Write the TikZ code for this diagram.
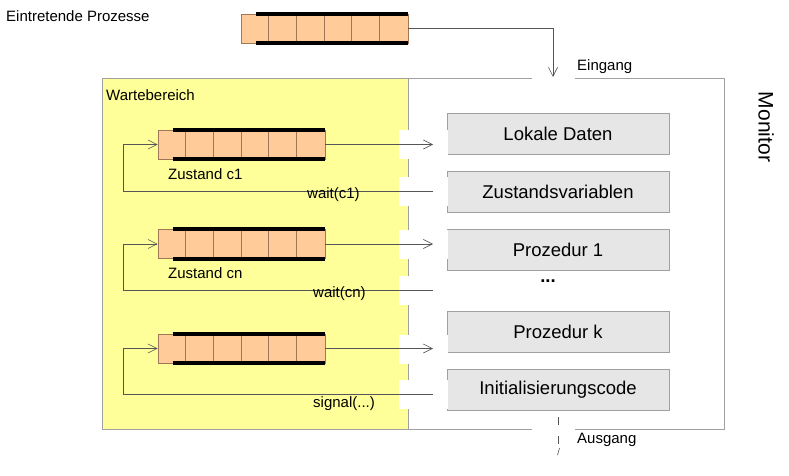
\documentclass[tikz,border=0pt]{standalone}
\usepackage{fontspec}
\setmainfont{Liberation Sans}
\usetikzlibrary{arrows.meta}
\definecolor{qfill}{HTML}{FFCC99}
\definecolor{qline}{HTML}{A07858}
\definecolor{yfill}{HTML}{FFFF99}
\definecolor{gline}{HTML}{A0A0A0}
\definecolor{bfill}{HTML}{E6E6E6}
\definecolor{aline}{HTML}{555555}
\newcommand\qdeco[1]{%
  \foreach \d in {28,56,84,111,139}
    \draw[qline, line width=0.6pt] ([xshift=\d pt]#1.north west) -- ([xshift=\d pt]#1.south west);
  \draw[black, line width=4pt] ([xshift=15pt]#1.north west) -- (#1.north east);
  \draw[black, line width=4pt] ([xshift=15pt]#1.south west) -- (#1.south east);
}
\begin{document}
\begin{tikzpicture}[x=1pt,y=-1pt,
  small/.style={font=\fontsize{15}{18}\selectfont, inner sep=0pt},
  queue/.style={draw=qline, fill=qfill, minimum width=167pt, minimum height=29pt, inner sep=0pt, line width=0.6pt},
  mbox/.style={draw=gline, fill=bfill, minimum width=222pt, minimum height=41pt, inner sep=0pt, line width=0.8pt, font=\fontsize{18.5}{22}\selectfont},
  arr/.style={draw=aline, line width=0.6pt, -{Straight Barb[length=9pt,width=9pt]}},
  ln/.style={draw=aline, line width=0.6pt},
  patch/.style={fill=white, draw=none}]
\useasboundingbox (0,0) rectangle (789,476);

% waiting area
\draw[gline, fill=yfill, line width=0.8pt] (102,78) rectangle (408,429.5);
% monitor outline with gaps
\draw[gline, line width=0.8pt] (408,78) -- (532,78) (575,78) -- (724,78) -- (724,429.5) -- (575,429.5) (532,429.5) -- (408,429.5);

% monitor parts
\node[mbox] (lok)  at (558,133.5) {Lokale Daten};
\node[mbox] (zv)   at (558,191.5) {Zustandsvariablen};
\node[mbox] (p1)   at (558,249.5) {Prozedur 1};
\node[font=\fontsize{18.5}{22}\selectfont\bfseries, inner sep=0pt] (dots) at (548,281) {...};
\node[mbox] (pk)   at (558,331.5) {Prozedur k};
\node[mbox] (init) at (558,389.5) {Initialisierungscode};

% white gaps
\foreach \yy in {144,191,244,290,349,394}
  \fill[white] (399,\yy-14.5) rectangle (448,\yy+14.5);

% queues
\node[queue] (q0) at (324.5,28.5) {};
\node[queue] (q1) at (241.5,144.5) {};
\node[queue] (q2) at (241.5,244) {};
\node[queue] (q3) at (241.5,348.5) {};
\qdeco{q0}\qdeco{q1}\qdeco{q2}\qdeco{q3}

% coordinates
\coordinate (entry) at (553,77);
\coordinate (a1) at (433,144.5);
\coordinate (a2) at (433,244);
\coordinate (a3) at (433,348.5);
\coordinate (f1) at (433,191);
\coordinate (f2) at (433,290);
\coordinate (f3) at (433,394);
\coordinate (l1) at (123,191);
\coordinate (l2) at (123,290);
\coordinate (l3) at (123,394);
\coordinate (exit) at (558,455);

% connectors
\draw[arr] (q0.east) -| (entry);
\draw[arr] (q1.east) -- (a1);
\draw[arr] (q2.east) -- (a2);
\draw[arr] (q3.east) -- (a3);
\draw[arr] (f1) -- (l1) |- (q1.west);
\draw[arr] (f2) -- (l2) |- (q2.west);
\draw[arr] (f3) -- (l3) |- (q3.west);
\draw[ln, dash pattern=on 8pt off 11pt, dash phase=12pt] (init.south) -- (exit);
\draw[ln] ([xshift=1.5pt,yshift=7pt]exit) -- ([xshift=-0.5pt]exit);

% labels
\node[small, anchor=west] (t0) at (6,16) {Eintretende Prozesse};
\node[small, anchor=west] (tw) at (106,95) {Wartebereich};
\node[small, anchor=west] (tin) at (577,67) {Eingang};
\node[small, anchor=west] (tout) at (577,440) {Ausgang};
\node[small, anchor=west] (z1) at (168,174) {Zustand c1};
\node[small, anchor=west] (zn) at (168,273) {Zustand cn};
\node[small, anchor=west] (w1) at (307,195) {wait(c1)};
\node[small, anchor=west] (wn) at (313,294) {wait(cn)};
\node[small, anchor=west] (sg) at (313,404) {signal(...)};
\node[font=\fontsize{21}{24}\selectfont, inner sep=0pt, rotate=-90] (mon) at (766,127) {Monitor};
\end{tikzpicture}
\end{document}
